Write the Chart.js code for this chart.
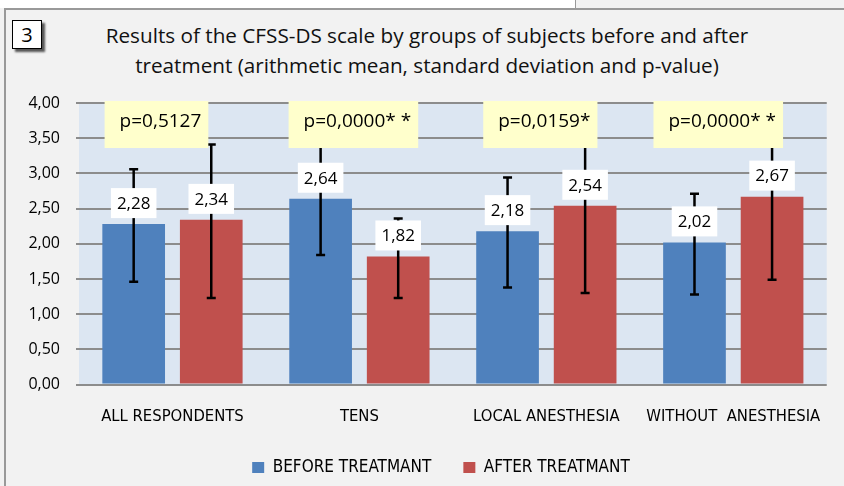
<!DOCTYPE html>
<html lang="en">
<head>
  <meta charset="UTF-8" />
  <title>CFSS-DS results</title>
  <script src="https://cdn.jsdelivr.net/npm/chart.js"></script>
  <style>
    body { margin: 0; background: #f2f2f2; }
    #wrap { position: relative; width: 844px; height: 486px; background: #f2f2f2; overflow: hidden; }
    #strip { position: absolute; left: 0; top: 0; width: 575px; height: 8px; background: #fff; border-right: 1px solid #999; }
    #topline { position: absolute; left: 4px; top: 8px; width: 840px; height: 2px; background: #999; }
    #leftline { position: absolute; left: 4px; top: 8px; width: 2px; height: 478px; background: #999; }
    #badge { position: absolute; left: 12px; top: 20px; width: 28px; height: 27px; background: #fff; border: 1px solid #000;
             box-shadow: 3px 3px 2px #555; font: 20px "Open Sans", sans-serif; line-height: 27px; text-align: center; color: #000; }
    #title { position: absolute; left: 0; top: 20px; width: 854px; text-align: center; font: 20.7px "Open Sans", sans-serif;
             line-height: 30px; color: #111; }
    canvas { position: absolute; left: 0; top: 0; }
  </style>
</head>
<body>
<div id="wrap">
  <div id="strip"></div>
  <div id="topline"></div>
  <div id="leftline"></div>
  <div id="badge">3</div>
  <div id="title">Results of the CFSS-DS scale by groups of subjects before and after<br>treatment (arithmetic mean, standard deviation and p-value)</div>
  <canvas id="cfssChart" width="844" height="486"></canvas>
</div>

<script>
const categories = ['ALL RESPONDENTS', 'TENS', 'LOCAL ANESTHESIA', 'WITHOUT  ANESTHESIA'];
const seriesNames = ['BEFORE TREATMANT', 'AFTER TREATMANT'];

// arithmetic means
const before = [2.28, 2.64, 2.18, 2.02];
const after = [2.34, 1.82, 2.54, 2.67];

// error bar ends (mean -/+ SD)
const beforeLow = [1.46, 1.84, 1.38, 1.28];
const beforeHigh = [3.06, 3.42, 2.94, 2.71];
const afterLow = [1.23, 1.23, 1.30, 1.49];
const afterHigh = [3.41, 2.36, 3.76, 3.83];

const pValues = ['p=0,5127', 'p=0,0000* *', 'p=0,0159*', 'p=0,0000* *'];

const yTicks = [0, 0.5, 1, 1.5, 2, 2.5, 3, 3.5, 4];

const fmt = v => v.toFixed(2).replace('.', ',');
const NARROW = "'DejaVu Sans Condensed', 'Open Sans', sans-serif";

// light blue plot area
const plotBg = {
  id: 'plotBg',
  beforeDraw(chart) {
    const { ctx, chartArea: a } = chart;
    ctx.save();
    ctx.fillStyle = '#dce6f2';
    ctx.fillRect(a.left, a.top, a.right - a.left, a.bottom - a.top);
    ctx.restore();
  }
};

// nudge the legend a bit right, like in the original
const legendShift = {
  id: 'legendShift',
  afterLayout(chart) {
    chart.legend.left += 16;
    chart.legend.right += 16;
  }
};

// error bars, value boxes and p-value boxes
const extras = {
  id: 'extras',
  afterDatasetsDraw(chart, args, opts) {
    const { ctx } = chart;
    const y = chart.scales.y, x = chart.scales.x;
    ctx.save();

    // error bars
    ctx.strokeStyle = '#000';
    ctx.lineWidth = 2.5;
    chart.data.datasets.forEach((ds, i) => {
      chart.getDatasetMeta(i).data.forEach((bar, j) => {
        const yh = y.getPixelForValue(ds.high[j]);
        const yl = y.getPixelForValue(ds.low[j]);
        ctx.beginPath();
        ctx.moveTo(bar.x, yh); ctx.lineTo(bar.x, yl);
        ctx.moveTo(bar.x - 4.5, yh); ctx.lineTo(bar.x + 4.5, yh);
        ctx.moveTo(bar.x - 4.5, yl); ctx.lineTo(bar.x + 4.5, yl);
        ctx.stroke();
      });
    });

    // value labels in white boxes
    ctx.font = "17px 'Open Sans', sans-serif";
    ctx.textAlign = 'center';
    ctx.textBaseline = 'middle';
    chart.data.datasets.forEach((ds, i) => {
      chart.getDatasetMeta(i).data.forEach((bar, j) => {
        const t = fmt(ds.data[j]);
        const w = ctx.measureText(t).width + 12;
        const bottom = bar.y - 6;
        ctx.fillStyle = '#fff';
        ctx.fillRect(bar.x - w / 2, bottom - 30, w, 30);
        ctx.fillStyle = '#000';
        ctx.fillText(t, bar.x, bottom - 14);
      });
    });

    // p-value boxes
    ctx.font = "19px 'Open Sans', sans-serif";
    pValues.forEach((t, j) => {
      const cx = x.getPixelForValue(j) + opts.shift[j];
      const w = ctx.measureText(t).width + 22;
      ctx.fillStyle = '#ffffcc';
      ctx.fillRect(cx - w / 2, 101, w, 47);
      ctx.fillStyle = '#000';
      ctx.fillText(t, cx + 4, 122);
    });
    ctx.restore();
  }
};

const ctx = document.getElementById('cfssChart').getContext('2d');
const chart = new Chart(ctx, {
  type: 'bar',
  data: {
    labels: categories,
    datasets: [
      { label: seriesNames[0], data: before, low: beforeLow, high: beforeHigh, backgroundColor: '#4f81bd' },
      { label: seriesNames[1], data: after, low: afterLow, high: afterHigh, backgroundColor: '#c0504d' }
    ]
  },
  options: {
    responsive: false,
    animation: false,
    devicePixelRatio: 1,
    categoryPercentage: 0.83,
    barPercentage: 0.808,
    layout: { padding: { left: 20, right: 14, top: 103, bottom: 0 } },
    scales: {
      x: {
        grid: { display: false, drawTicks: false },
        border: { display: false },
        ticks: { font: { family: NARROW, size: 16.5 }, color: '#000', padding: 22, maxRotation: 0, autoSkip: false },
        afterFit(s) { s.height = 42.4; }
      },
      y: {
        min: 0, max: 4,
        afterBuildTicks(s) { s.ticks = yTicks.map(v => ({ value: v })); },
        ticks: { font: { family: "'Open Sans', sans-serif", size: 16 }, color: '#000', padding: 16, callback: v => fmt(v) },
        grid: { color: '#8c8c8c', lineWidth: 2, tickLength: 3, drawTicks: true },
        border: { display: false },
        afterFit(s) { s.width = 59; }
      }
    },
    plugins: {
      legend: {
        position: 'bottom',
        labels: { boxWidth: 12, boxHeight: 11, padding: 32, font: { family: NARROW, size: 17 }, color: '#000' }
      },
      tooltip: { enabled: false },
      extras: { shift: [-16, -6, -6, -15] }
    }
  },
  plugins: [plotBg, legendShift, extras]
});
</script>
</body>
</html>
